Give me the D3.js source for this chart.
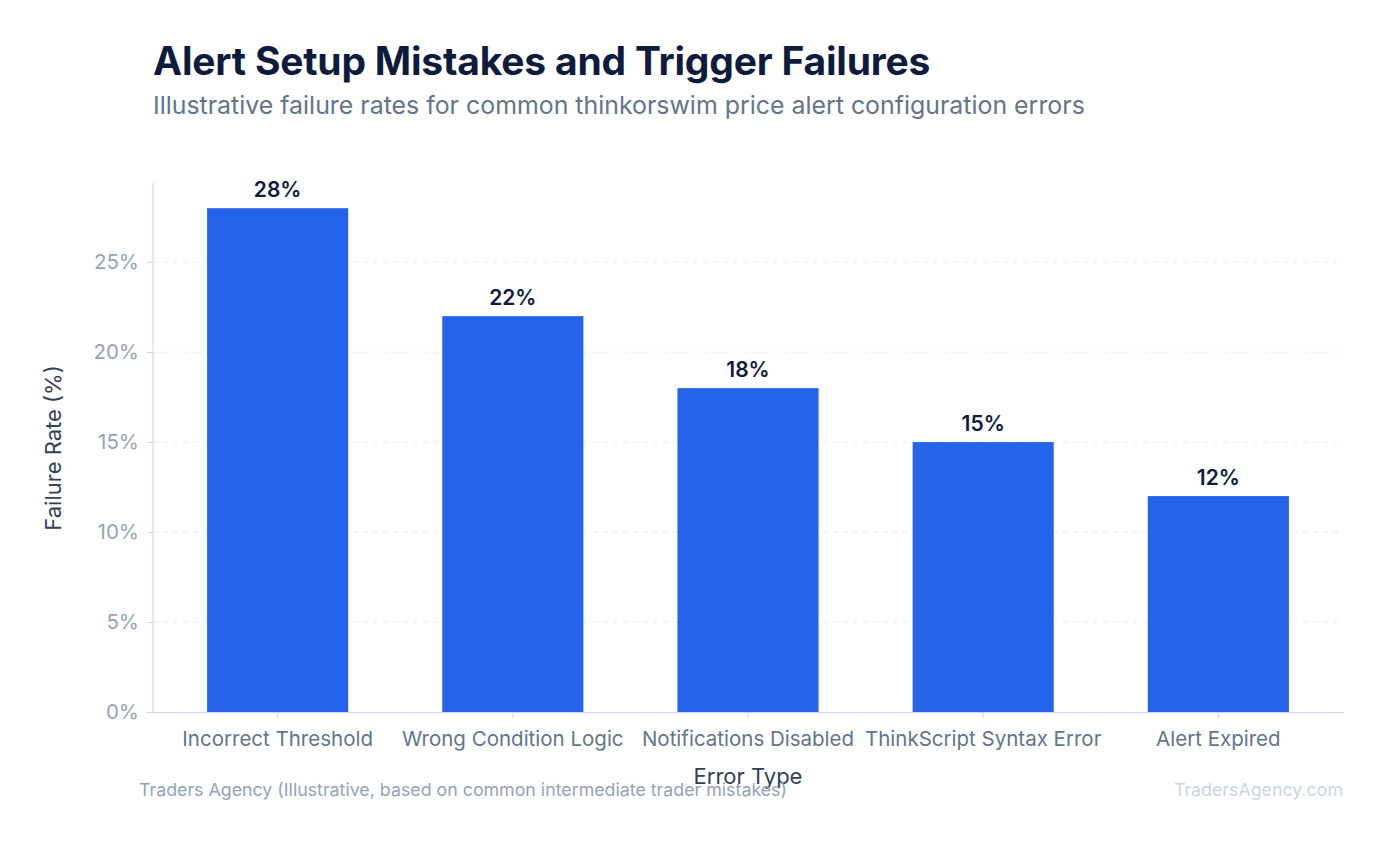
<!DOCTYPE html>
<html><head><meta charset="utf-8">
<script src="https://cdn.jsdelivr.net/npm/d3@7"></script>
<style>body{margin:0;background:#fff;font-family:Inter,sans-serif}</style>
</head><body>
<svg id="c" width="1387" height="845"></svg>
<script>
const categories=["Incorrect Threshold","Wrong Condition Logic","Notifications Disabled","ThinkScript Syntax Error","Alert Expired"];
const values=[28,22,18,15,12];
const yTicks=[0,5,10,15,20,25];

const svg=d3.select("#c");
const L=153,R=1343,T=183,B=712;
const x=d3.scaleBand().domain(categories).range([L,R]).paddingInner(0.4).paddingOuter(0.23);
const y=d3.scaleLinear().domain([0,29.4]).range([B,T]);

svg.append("text").attr("x",153).attr("y",75).attr("font-size",39).attr("font-weight",700).attr("fill","#0f1b3d").attr("letter-spacing","-0.2").text("Alert Setup Mistakes and Trigger Failures");
svg.append("text").attr("x",153).attr("y",114).attr("font-size",24.9).attr("fill","#64748b").text("Illustrative failure rates for common thinkorswim price alert configuration errors");

svg.append("g").selectAll("line").data(yTicks.slice(1)).join("line")
 .attr("x1",L).attr("x2",R).attr("y1",d=>y(d)).attr("y2",d=>y(d))
 .attr("stroke","#e8edf3").attr("stroke-dasharray","5,5");

const ya=svg.append("g").attr("transform",`translate(${L},0)`).call(d3.axisLeft(y).tickValues(yTicks).tickFormat(d=>d+"%").tickSize(6).tickPadding(8));
ya.selectAll("text").attr("font-size",20.5).attr("fill","#94a3b8").attr("font-family","Inter");
ya.selectAll("line").attr("stroke","#cbd5e1");
ya.select(".domain").attr("stroke","#cbd5e1").attr("d",`M-0,${T}V${B}`);

svg.append("g").selectAll("rect").data(values).join("rect")
 .attr("x",(d,i)=>x(categories[i])).attr("width",x.bandwidth())
 .attr("y",d=>y(d)).attr("height",d=>B-y(d)).attr("fill","#2563eb");
svg.append("g").selectAll("text").data(values).join("text")
 .attr("x",(d,i)=>x(categories[i])+x.bandwidth()/2).attr("y",d=>y(d)-11)
 .attr("text-anchor","middle").attr("font-size",21).attr("font-weight",600).attr("fill","#0f1b3d").text(d=>d+"%");

const xa=svg.append("g").attr("transform",`translate(0,${B})`).call(d3.axisBottom(x).tickSize(6).tickPadding(13).tickSizeOuter(0));
xa.selectAll("text").attr("font-size",20.5).attr("fill","#64748b").attr("font-family","Inter");
xa.selectAll("line").attr("stroke","#cbd5e1");
xa.select(".domain").attr("stroke","#cbd5e1");

svg.append("text").attr("x",748).attr("y",784).attr("text-anchor","middle").attr("font-size",22).attr("fill","#334155").text("Error Type");
svg.append("text").attr("transform","translate(61,448) rotate(-90)").attr("text-anchor","middle").attr("font-size",22).attr("fill","#334155").text("Failure Rate (%)");
svg.append("text").attr("x",139).attr("y",796).attr("font-size",17.8).attr("fill","#94a3b8").text("Traders Agency (Illustrative, based on common intermediate trader mistakes)");
svg.append("text").attr("x",1343).attr("y",796).attr("text-anchor","end").attr("font-size",17.8).attr("fill","#cbd5e1").text("TradersAgency.com");
</script></body></html>
